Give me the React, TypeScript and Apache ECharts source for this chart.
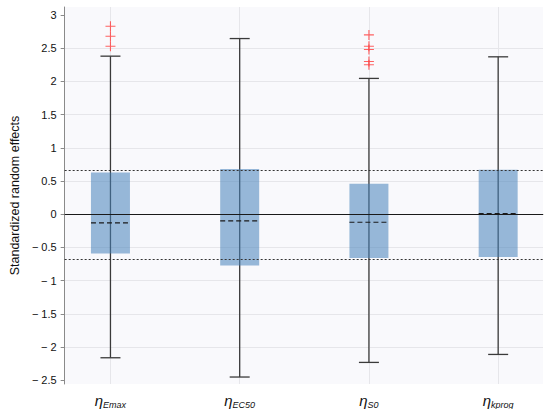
import React, { useEffect, useRef } from "react";
import * as echarts from "echarts";

const categories = ["Emax", "EC50", "S0", "kprog"];
const q1 = [-0.59, -0.77, -0.66, -0.645];
const medians = [-0.13, -0.1, -0.12, 0.01];
const q3 = [0.63, 0.68, 0.46, 0.67];
const lowerWhisker = [-2.16, -2.45, -2.23, -2.11];
const upperWhisker = [2.38, 2.645, 2.045, 2.37];
const outliers: number[][] = [[2.83, 2.68, 2.53], [], [2.7, 2.53, 2.48, 2.3, 2.25], []];
const refLines = [0.6745, -0.6745];
const yTicks = [-2.5, -2, -1.5, -1, -0.5, 0, 0.5, 1, 1.5, 2, 2.5, 3];
const xTicks = [1, 2, 3, 4];

const FONT = "'Liberation Sans', Arial, Helvetica, sans-serif";

export default function App() {
  const ref = useRef<HTMLDivElement>(null);
  useEffect(() => {
    document.body.style.margin = "0";
    const chart = echarts.init(ref.current!, null, { renderer: "svg" });
    const boxData = categories.map((_, i) => [i + 1, q1[i], medians[i], q3[i], lowerWhisker[i], upperWhisker[i]]);
    const outlierData: number[][] = [];
    outliers.forEach((arr, i) => arr.forEach((v) => outlierData.push([i + 1, v])));

    const option: any = {
      animation: false,
      textStyle: { fontFamily: FONT },
      grid: {
        left: 52,
        right: 7,
        top: 7,
        bottom: 24,
        show: true,
        backgroundColor: "#f9f9fc",
        borderWidth: 0,
      },
      xAxis: {
        type: "value",
        min: 0.6457,
        max: 4.347,
        minInterval: 1,
        maxInterval: 1,
        axisLine: { show: true, lineStyle: { color: "#8a8a8a", width: 1 } },
        axisTick: { show: false },
        splitLine: { show: true, showMinLine: false, showMaxLine: false, lineStyle: { color: "#e6e6ea", width: 1 } },
        axisLabel: {
          customValues: xTicks,
          margin: 8,
          formatter: (v: number) => {
            const c = categories[Math.round(v) - 1];
            return c ? `{eta|η}{sub|${c}}` : "";
          },
          rich: {
            eta: { fontSize: 15, fontStyle: "italic", color: "#111", fontFamily: FONT },
            sub: { fontSize: 9, fontStyle: "italic", color: "#111", fontFamily: FONT, padding: [8, 0, 0, 0] },
          },
        },
      },
      yAxis: {
        type: "value",
        min: -2.555,
        max: 3.12,
        minInterval: 0.5,
        maxInterval: 0.5,
        name: "Standardized random effects",
        nameLocation: "middle",
        nameGap: 40,
        nameTextStyle: { fontSize: 12.5, color: "#111", fontFamily: FONT },
        axisLine: { show: true, lineStyle: { color: "#8a8a8a", width: 1 } },
        axisTick: { show: true, customValues: yTicks, length: 4, lineStyle: { color: "#8a8a8a" } },
        splitLine: { show: true, showMinLine: false, showMaxLine: false, lineStyle: { color: "#e6e6ea", width: 1 } },
        axisLabel: {
          customValues: yTicks,
          margin: 8,
          fontSize: 11,
          color: "#111",
          formatter: (v: number) => (v < 0 ? "\u2212 " + String(Math.abs(v)) : String(v)),
        },
      },
      series: [
        {
          type: "custom",
          encode: { x: 0, y: [1, 2, 3, 4, 5] },
          data: boxData,
          z: 3,
          renderItem: (params: any, api: any) => {
            const x = api.value(0);
            const pQ1 = api.coord([x, api.value(1)]);
            const pMed = api.coord([x, api.value(2)]);
            const pQ3 = api.coord([x, api.value(3)]);
            const pLo = api.coord([x, api.value(4)]);
            const pHi = api.coord([x, api.value(5)]);
            const half = 19.5;
            const cap = 10;
            const cx = pMed[0];
            const stroke = "#3a3a3a";
            return {
              type: "group",
              children: [
                { type: "line", shape: { x1: cx, y1: pLo[1], x2: cx, y2: pHi[1] }, style: { stroke, lineWidth: 1.3 } },
                { type: "line", shape: { x1: cx - cap, y1: pLo[1], x2: cx + cap, y2: pLo[1] }, style: { stroke, lineWidth: 1.3 } },
                { type: "line", shape: { x1: cx - cap, y1: pHi[1], x2: cx + cap, y2: pHi[1] }, style: { stroke, lineWidth: 1.3 } },
                {
                  type: "rect",
                  shape: { x: cx - half, y: pQ3[1], width: half * 2, height: pQ1[1] - pQ3[1] },
                  style: { fill: "rgba(70,130,185,0.55)", stroke: "none" },
                },
                {
                  type: "line",
                  shape: { x1: cx - half, y1: pMed[1], x2: cx + half, y2: pMed[1] },
                  style: { stroke: "#1a1a1a", lineWidth: 1.2, lineDash: [5, 3] },
                },
              ],
            };
          },
        },
        {
          type: "scatter",
          data: outlierData,
          z: 4,
          symbol: "path://M0,5L10,5M5,0L5,10",
          symbolSize: [10, 10],
          itemStyle: { color: "transparent", borderColor: "#ff3b3b", borderWidth: 1.1 },
        },
        {
          type: "line",
          data: [],
          z: 5,
          markLine: {
            silent: true,
            symbol: "none",
            label: { show: false },
            data: [
              { yAxis: 0, lineStyle: { color: "#1a1a1a", width: 1.1, type: "solid" } },
              ...refLines.map((v) => ({ yAxis: v, lineStyle: { color: "#333", width: 1, type: [2, 2] } })),
            ],
          },
        },
      ],
    };
    chart.setOption(option);
    return () => chart.dispose();
  }, []);
  return <div ref={ref} style={{ width: 550, height: 409 }} />;
}
